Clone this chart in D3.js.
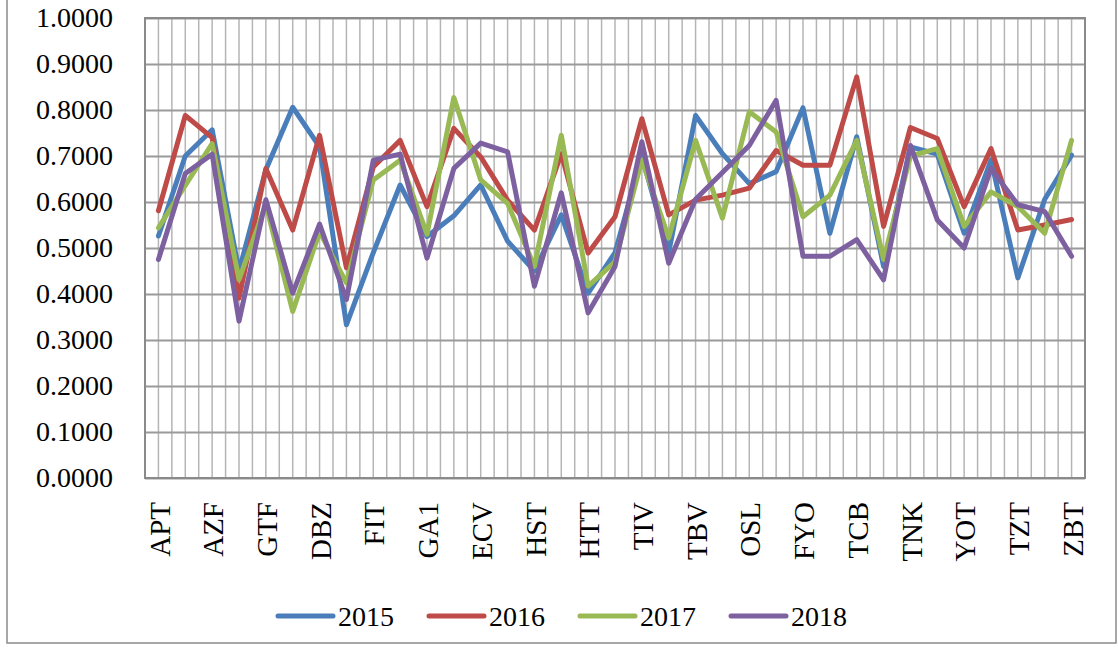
<!DOCTYPE html>
<html>
<head>
<meta charset="utf-8">
<script src="https://cdn.jsdelivr.net/npm/d3@7"></script>
<style>
  body { margin: 0; background: #fff; }
  svg { display: block; font-family: "Liberation Serif", "Times New Roman", serif; }
</style>
</head>
<body>
<svg width="1118" height="648"></svg>
<script>
// 35 categories, only every other one is labelled on the axis
const categories = ['APT', '', 'AZF', '', 'GTF', '', 'DBZ', '', 'FIT', '', 'GA1', '', 'ECV', '',
  'HST', '', 'HTT', '', 'TIV', '', 'TBV', '', 'OSL', '', 'FYO', '', 'TCB', '', 'TNK', '',
  'YOT', '', 'TZT', '', 'ZBT'];
const years = ['2015', '2016', '2017', '2018'];
const yTicks = [0, 0.1, 0.2, 0.3, 0.4, 0.5, 0.6, 0.7, 0.8, 0.9, 1.0];

const v2015 = [0.526, 0.700, 0.757, 0.450, 0.670, 0.806, 0.720, 0.333, 0.490, 0.637,
  0.525, 0.570, 0.637, 0.515, 0.450, 0.572, 0.402, 0.490, 0.700, 0.490,
  0.788, 0.705, 0.640, 0.666, 0.805, 0.532, 0.742, 0.460, 0.720, 0.704,
  0.532, 0.691, 0.435, 0.606, 0.702];
const v2016 = [0.581, 0.788, 0.740, 0.391, 0.673, 0.539, 0.745, 0.457, 0.676, 0.734,
  0.590, 0.760, 0.698, 0.604, 0.539, 0.705, 0.489, 0.568, 0.781, 0.572,
  0.604, 0.615, 0.630, 0.712, 0.680, 0.680, 0.872, 0.547, 0.762, 0.738,
  0.590, 0.716, 0.539, 0.550, 0.562];
const v2017 = [0.544, 0.636, 0.727, 0.431, 0.595, 0.362, 0.535, 0.424, 0.648, 0.691,
  0.530, 0.827, 0.648, 0.597, 0.460, 0.745, 0.417, 0.470, 0.691, 0.522,
  0.734, 0.565, 0.796, 0.752, 0.568, 0.615, 0.734, 0.475, 0.700, 0.716,
  0.547, 0.622, 0.590, 0.532, 0.734];
const v2018 = [0.475, 0.662, 0.704, 0.341, 0.605, 0.402, 0.552, 0.388, 0.691, 0.704,
  0.478, 0.673, 0.728, 0.709, 0.417, 0.620, 0.359, 0.460, 0.731, 0.467,
  0.606, 0.664, 0.723, 0.821, 0.482, 0.482, 0.518, 0.431, 0.723, 0.561,
  0.500, 0.673, 0.594, 0.579, 0.482];
const series = [v2015, v2016, v2017, v2018];
const colors = ['#4a7ebb', '#be4b48', '#98b954', '#7d60a0'];

const svg = d3.select('svg');
const margin = {top: 18, right: 33, bottom: 170, left: 145};
const width = 1118 - margin.left - margin.right;
const height = 648 - margin.top - margin.bottom;

// outer chart frame
svg.append('rect')
  .attr('x', 7).attr('y', -2)
  .attr('width', 1109).attr('height', 645)
  .attr('fill', 'none')
  .attr('stroke', '#8a8a8a')
  .attr('stroke-width', 1.5);

const g = svg.append('g')
  .attr('transform', `translate(${margin.left},${margin.top})`);

const x = d3.scalePoint()
  .domain(d3.range(categories.length))
  .range([0, width])
  .padding(0.5);

const y = d3.scaleLinear()
  .domain([0, 1])
  .range([height, 0]);

// vertical gridlines: category boundaries and centres
const half = x.step() / 2;
g.append('g')
  .selectAll('line')
  .data(d3.range(1, categories.length * 2))
  .join('line')
    .attr('x1', k => k * half)
    .attr('x2', k => k * half)
    .attr('y1', 0)
    .attr('y2', height)
    .attr('stroke', '#b5b5b5')
    .attr('stroke-width', 1.5);

// horizontal gridlines
g.append('g')
  .call(d3.axisLeft(y)
    .tickValues(yTicks)
    .tickSize(-width)
    .tickFormat(''))
  .call(a => a.select('.domain').remove())
  .call(a => a.selectAll('line').attr('stroke', '#9a9a9a').attr('stroke-width', 2));

// plot frame
g.append('rect')
  .attr('width', width).attr('height', height)
  .attr('fill', 'none')
  .attr('stroke', '#8a8a8a')
  .attr('stroke-width', 2);

// y labels
g.append('g')
  .call(d3.axisLeft(y)
    .tickValues(yTicks)
    .tickSize(0)
    .tickPadding(32)
    .tickFormat(d3.format('.4f')))
  .call(a => a.select('.domain').remove())
  .call(a => a.selectAll('text')
    .attr('fill', '#000')
    .style('font-family', '"Liberation Serif", serif')
    .style('font-size', '28px'));

// x labels, rotated
g.append('g')
  .attr('transform', `translate(0,${height})`)
  .selectAll('text')
  .data(d3.range(categories.length).filter(i => categories[i] !== ''))
  .join('text')
    .attr('transform', i => `translate(${x(i) + 1},24) rotate(-90)`)
    .attr('text-anchor', 'end')
    .attr('dy', '0.35em')
    .style('font-size', '29px')
    .text(i => categories[i]);

// lines
const line = d3.line()
  .x((d, i) => x(i))
  .y(d => y(d));

g.append('g')
  .selectAll('path')
  .data(series)
  .join('path')
    .attr('d', line)
    .attr('fill', 'none')
    .attr('stroke', (d, i) => colors[i])
    .attr('stroke-width', 5)
    .attr('stroke-linejoin', 'round')
    .attr('stroke-linecap', 'round');

// legend
const legend = svg.append('g')
  .attr('transform', 'translate(278,616)')
  .selectAll('g')
  .data(years)
  .join('g')
    .attr('transform', (d, i) => `translate(${i * 151},0)`);

legend.append('line')
  .attr('x1', 0).attr('x2', 55)
  .attr('stroke', (d, i) => colors[i])
  .attr('stroke-width', 5)
  .attr('stroke-linecap', 'round');

legend.append('text')
  .attr('x', 60)
  .attr('dy', '0.35em')
  .style('font-size', '28px')
  .text(d => d);
</script>
</body>
</html>
